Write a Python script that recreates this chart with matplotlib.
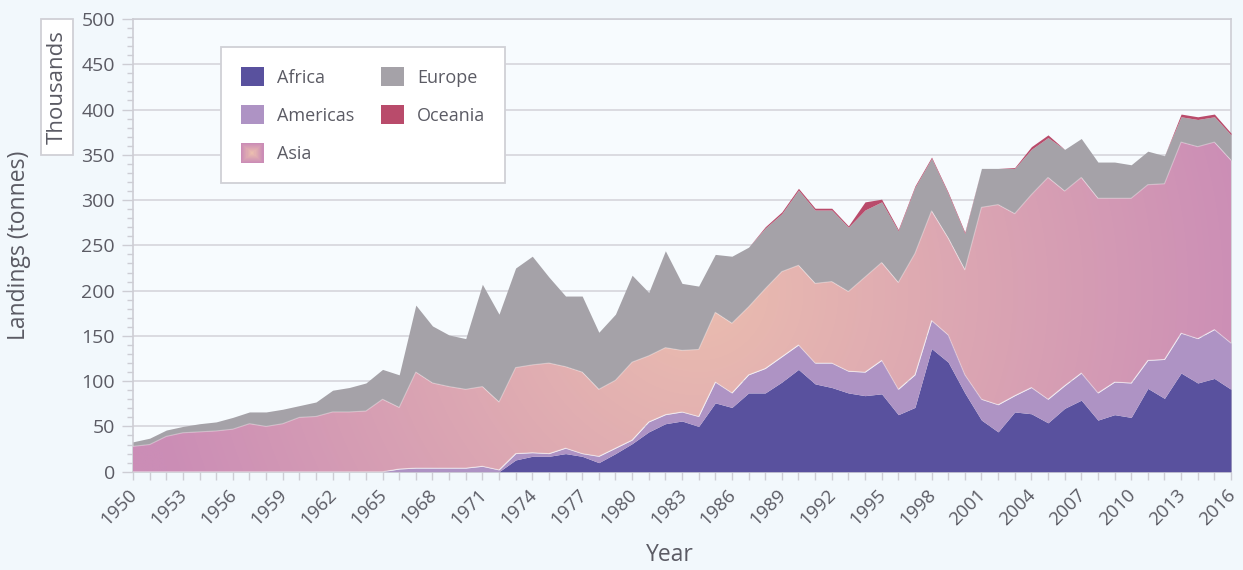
import numpy as np
import matplotlib
matplotlib.use("Agg")
import matplotlib.pyplot as plt
import matplotlib.transforms as mtransforms
from matplotlib.patches import Rectangle, PathPatch, Patch
from matplotlib.legend_handler import HandlerBase
from matplotlib.ticker import MultipleLocator

plt.rcParams['font.family'] = ['Open Sans', 'DejaVu Sans']

# landings in thousand tonnes
years = np.arange(1950, 2017)
africa = [0, 0, 0, 0, 0, 0, 0, 0, 0, 0, 0, 0, 0, 0, 0, 0, 0,
          0, 0, 0, 0, 0, 0, 13, 17, 17, 20, 17, 10, 20, 31, 44, 53,
          56, 50, 76, 71, 87, 87, 99, 113, 97, 93, 87, 84, 86, 63, 71,
          136, 121, 87, 57, 44, 66, 64, 54, 70, 79, 57, 63, 60, 92, 81,
          109, 98, 103, 91]
americas = [0, 0, 0, 0, 0, 0, 0, 0, 0, 0, 0, 0, 0, 0, 0, 0, 3,
            4, 4, 4, 4, 6, 2, 7, 4, 3, 6, 3, 7, 6, 4, 11, 10,
            10, 11, 23, 16, 20, 27, 28, 27, 23, 27, 24, 26, 37, 28, 36,
            31, 30, 20, 23, 30, 18, 29, 26, 25, 30, 30, 36, 38, 31, 43,
            44, 49, 54, 51]
asia = [28, 30, 39, 43, 44, 45, 47, 53, 50, 53, 60, 61, 66, 66, 67, 80, 68,
        106, 94, 90, 87, 88, 75, 95, 97, 100, 90, 90, 74, 75, 86, 73, 74,
        68, 74, 77, 77, 75, 88, 94, 88, 88, 90, 88, 105, 108, 118, 134,
        121, 107, 116, 212, 221, 201, 213, 245, 215, 216, 215, 203, 204, 194, 194,
        211, 212, 207, 202]
europe = [5, 7, 7, 7, 9, 10, 13, 13, 16, 16, 13, 16, 24, 27, 31, 33, 36,
          74, 63, 57, 56, 113, 97, 110, 120, 95, 78, 84, 63, 73, 96, 70, 107,
          74, 70, 64, 74, 66, 67, 64, 83, 81, 79, 71, 74, 67, 57, 73,
          58, 49, 40, 43, 40, 50, 50, 44, 46, 43, 40, 40, 37, 37, 31,
          28, 30, 28, 28]
oceania = [0, 0, 0, 0, 0, 0, 0, 0, 0, 0, 0, 0, 0, 0, 0, 0, 0,
           0, 0, 0, 0, 0, 0, 0, 0, 0, 0, 0, 0, 0, 0, 0, 0,
           0, 0, 0, 0, 0, 1.5, 2, 2, 2, 2, 1.5, 9, 3, 1.5, 1.5,
           1.5, 1.5, 1.5, 0, 0, 1, 3, 3, 0, 0, 0, 0, 0, 0, 0,
           3, 3, 3, 2]
tick_years = years[::3]

AFRICA = '#59519E'
AMERICAS = '#AE93C4'
EUROPE = '#A5A2A8'
OCEANIA = '#B94B6B'
PINK = np.array([203, 141, 182]) / 255
PEACH = np.array([235, 189, 175]) / 255
TEXT = '#5B5B64'
LINE = '#CDCDD4'


class GradientHandler(HandlerBase):
    """square legend swatch, peach in the middle fading to pink"""
    def create_artists(self, legend, orig_handle, xdescent, ydescent,
                       width, height, fontsize, trans):
        arts = []
        n = 10
        for j in range(n):
            f = 1 - j / n
            w, h = width * f, height * f
            c = PINK * (1 - j / (n - 1)) + PEACH * (j / (n - 1))
            arts.append(Rectangle((-xdescent + (width - w) / 2, -ydescent + (height - h) / 2),
                                  w, h, facecolor=c, edgecolor='none', transform=trans))
        return arts


fig = plt.figure(figsize=(12.43, 5.70), dpi=100, facecolor='#F2F8FC')
ax = fig.add_axes([133 / 1243, 1 - 471.7 / 570, 1098 / 1243, 452.7 / 570])
ax.set_facecolor('#F7FBFE')

c1 = np.array(africa, dtype=float)
c2 = c1 + americas
c3 = c2 + asia
c4 = c3 + europe
c5 = c4 + oceania

ax.fill_between(years, 0, c1, color=AFRICA, lw=0, zorder=3)
ax.fill_between(years, c1, c2, color=AMERICAS, lw=0, zorder=3)
asia_poly = ax.fill_between(years, c2, c3, facecolor='none', lw=0, zorder=3)
ax.fill_between(years, c3, c4, color=EUROPE, lw=0, zorder=3)
ax.fill_between(years, c4, c5, color=OCEANIA, lw=0, zorder=3)

# radial-ish gradient for Asia, clipped to its band
gx = np.linspace(1950, 2016, 500)
gy = np.linspace(0, 500, 300)
X, Y = np.meshgrid(gx, gy)
t = np.clip(np.hypot((X - 1984) * 16.62, (Y - 200) * 0.9056) / 560, 0, 1)[..., None]
img = PEACH * (1 - t) + PINK * t
im = ax.imshow(img, extent=(1950, 2016, 0, 500), origin='lower', aspect='auto',
               zorder=3, interpolation='bilinear')
clip = PathPatch(asia_poly.get_paths()[0], transform=ax.transData,
                 facecolor='none', edgecolor='none')
ax.add_patch(clip)
im.set_clip_path(clip)

ax.plot(years, c2, color='white', alpha=0.35, lw=0.8, zorder=4)
ax.plot(years, c3, color='white', alpha=0.35, lw=0.8, zorder=4)

ax.set_xlim(1950, 2016)
ax.set_ylim(0, 500)
ax.yaxis.set_major_locator(MultipleLocator(50))
ax.yaxis.set_minor_locator(MultipleLocator(10))
ax.grid(axis='y', which='major', color='#D8D8DE', lw=1.3, zorder=0)
ax.set_axisbelow(True)

ax.set_xticks(tick_years)
ax.set_xticklabels([str(y) for y in tick_years])
ax.set_xticks(years, minor=True)
ax.tick_params(axis='x', which='both', length=6, width=1, color=LINE,
               labelsize=13.5, labelcolor=TEXT, pad=4)
ax.tick_params(axis='y', which='major', length=8, width=1, color=LINE,
               labelsize=14, labelcolor=TEXT, pad=5)
ax.tick_params(axis='y', which='minor', length=4.5, width=1, color=LINE)
offset = mtransforms.ScaledTranslation(8 / 100, 0, fig.dpi_scale_trans)
for lbl in ax.get_xticklabels():
    lbl.set_rotation(45)
    lbl.set_ha('right')
    lbl.set_transform(lbl.get_transform() + offset)

for side in ['left', 'bottom', 'right', 'top']:
    ax.spines[side].set_color(LINE)
    ax.spines[side].set_linewidth(1.2)

handles = [Patch(facecolor=AFRICA), Patch(facecolor=AMERICAS), Patch(facecolor='none'),
           Patch(facecolor=EUROPE), Patch(facecolor=OCEANIA)]
labels = ['Africa', 'Americas', 'Asia', 'Europe', 'Oceania']
leg = ax.legend(handles, labels, ncol=2, loc='upper left', bbox_to_anchor=(0.080, 0.938),
                fontsize=13, frameon=True, fancybox=False, framealpha=1,
                edgecolor='#D0D0D6', facecolor='white', handlelength=1.27, handleheight=1.27,
                handletextpad=0.72, columnspacing=1.5, labelspacing=1.02,
                borderpad=1.1, borderaxespad=0,
                handler_map={handles[2]: GradientHandler()})
leg.get_frame().set_linewidth(1.3)
leg.set_zorder(10)
for txt in leg.get_texts():
    txt.set_color(TEXT)

# "Thousands" tag and axis titles
fig.add_artist(Rectangle((41 / 1243, 1 - 155 / 570), 32 / 1243, 136 / 570,
                         transform=fig.transFigure, facecolor='white',
                         edgecolor='#D0D0D6', lw=1.3))
fig.text(57 / 1243, 1 - 87 / 570, 'Thousands', rotation=90, ha='center', va='center',
         fontsize=16, color=TEXT)
fig.text(19 / 1243, 1 - 245 / 570, 'Landings (tonnes)', rotation=90, ha='center',
         va='center', fontsize=16.5, color=TEXT)
fig.text(670 / 1243, 1 - 555 / 570, 'Year', ha='center', va='center',
         fontsize=16.5, color=TEXT)

fig.savefig('out.png', dpi=100, facecolor=fig.get_facecolor())
